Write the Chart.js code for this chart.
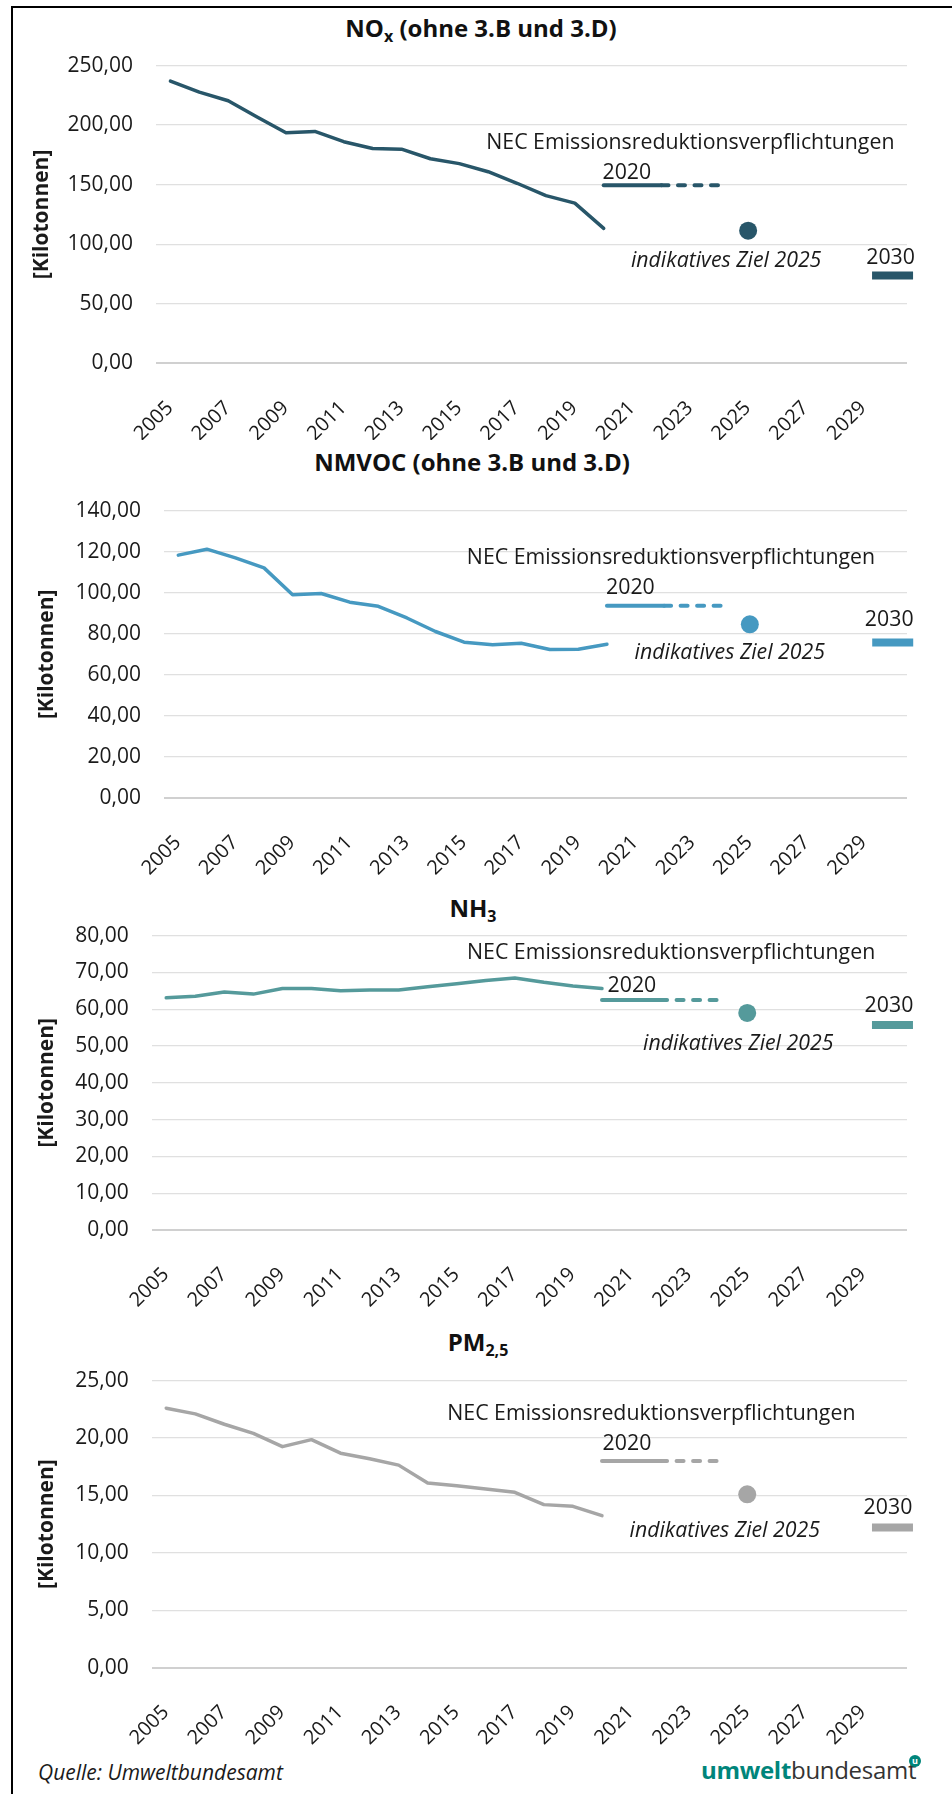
<!DOCTYPE html>
<html lang="de">
<head>
<meta charset="utf-8">
<script src="https://cdn.jsdelivr.net/npm/chart.js@4.4.1/dist/chart.umd.min.js"></script>
<style>
  body { margin: 0; width: 952px; height: 1794px; position: relative; background: #fff; overflow: hidden;
         font-family: "Open Sans", sans-serif; color: #1a1a1a; }
  #frame { position: absolute; left: 11px; top: 6px; width: 960px; height: 1800px;
           border-top: 2.5px solid #000; border-left: 2.5px solid #000; }
  .title { position: absolute; width: 600px; text-align: center; font-weight: 700; font-size: 24px;
           line-height: 30px; color: #111; white-space: nowrap; }
  .title sub { font-size: 16px; vertical-align: -5px; line-height: 0; }
  canvas { position: absolute; left: 0; }
  #source { position: absolute; left: 38px; top: 1759px; font-style: italic; font-size: 21px; line-height: 26px; }
  #logo { position: absolute; left: 701px; top: 1755px; font-size: 24px; line-height: 30px; letter-spacing: -0.3px; }
  #logo b { color: #00857b; font-weight: 700; }
  #logo span { color: #333; }
  #logo i { position: absolute; left: 208px; top: 0px; width: 12px; height: 12px; border-radius: 50%;
            background: #00857b; color: #fff; font-style: normal; font-weight: 700; font-size: 9px;
            line-height: 11px; text-align: center; letter-spacing: 0; }
</style>
</head>
<body>
<div id="frame"></div>

<div class="title" style="left:181px; top:13px;">NO<sub>x</sub> (ohne 3.B und 3.D)</div>
<div class="title" style="left:172px; top:447px;">NMVOC (ohne 3.B und 3.D)</div>
<div class="title" style="left:173px; top:893px;">NH<sub>3</sub></div>
<div class="title" style="left:178px; top:1327px;">PM<sub>2,5</sub></div>

<canvas id="c1" width="952" height="410" style="top:30px"></canvas>
<canvas id="c2" width="952" height="405" style="top:475px"></canvas>
<canvas id="c3" width="952" height="420" style="top:900px"></canvas>
<canvas id="c4" width="952" height="400" style="top:1345px"></canvas>

<div id="source">Quelle: Umweltbundesamt</div>
<div id="logo"><b>umwelt</b><span>bundesamt</span><i>u</i></div>

<script>
// Jahre (Kategorien)
const years = ['2005','2006','2007','2008','2009','2010','2011','2012','2013',
  '2014','2015','2016','2017','2018','2019','2020','2021','2022','2023','2024',
  '2025','2026','2027','2028','2029','2030'];

// Emissionen 2005-2020 [Kilotonnen]
const noxValues   = [237.0, 227.7, 220.5, 206.8, 193.6, 194.7, 186.1, 180.4, 179.8, 171.8, 167.7, 160.9, 151.2, 140.8, 134.5, 113.3];
const nmvocValues = [118.3, 121.2, 117.0, 112.1, 99.0, 99.6, 95.4, 93.4, 87.7, 81.1, 75.9, 74.6, 75.4, 72.3, 72.5, 74.9];
const nh3Values   = [63.1, 63.5, 64.7, 64.1, 65.6, 65.6, 65.0, 65.2, 65.2, 66.1, 66.9, 67.8, 68.5, 67.3, 66.3, 65.6];
const pm25Values  = [22.6, 22.1, 21.2, 20.4, 19.25, 19.86, 18.68, 18.19, 17.64, 16.08, 15.85, 15.56, 15.27, 14.2, 14.05, 13.24];

// NEC Ziele: NOx, NMVOC, NH3, PM2.5
const nec2020  = [149.6, 93.6, 62.5, 18.0];
const ziel2025 = [111.4, 84.6, 59.0, 15.1];
const nec2030  = [73.7, 75.8, 55.7, 12.2];

// y-Achsen
const yMax  = [250, 140, 80, 25];
const yStep = [50, 20, 10, 5];

const colors = ['#285669', '#4699c1', '#559a9b', '#a6a6a6'];

// Layout je Diagramm (Plotfläche in Canvas-Pixeln)
const layouts = [
  { plotLeft: 156,   top: 30.3, xh: 76.7, titlePad: 15.4 },
  { plotLeft: 164,   top: 20.3, xh: 82,   titlePad: 20.4 },
  { plotLeft: 151.7, top: 35,   xh: 90,   titlePad: 20.4 },
  { plotLeft: 151.7, top: 34.3, xh: 77.3, titlePad: 20.4 }
];

// Beschriftungen: Position relativ zu den Zielwerten
const noteLayouts = [
  { nec: {i: 18.0,  dy: -42}, y2020: {i: 15.8,  dy: -12}, ziel: {dx: -22,   dy: 30}, z2030: {dx: -2,   dy: -18} },
  { nec: {i: 17.24, dy: -48}, y2020: {i: 15.82, dy: -18}, ziel: {dx: -20,   dy: 29}, z2030: {dx: -3.5, dy: -22} },
  { nec: {i: 17.38, dy: -47}, y2020: {i: 16.03, dy: -14}, ziel: {dx: -9,    dy: 31}, z2030: {dx: -3.5, dy: -19.5} },
  { nec: {i: 16.7,  dy: -47}, y2020: {i: 15.86, dy: -17}, ziel: {dx: -22.5, dy: 37}, z2030: {dx: -4.5, dy: -20} }
];

Chart.defaults.font.family = '"Open Sans", sans-serif';
Chart.defaults.color = '#1a1a1a';

const notesPlugin = {
  id: 'notes',
  afterDraw(chart, args, opts) {
    const ctx = chart.ctx;
    const x = chart.scales.x, y = chart.scales.y;
    const n = opts.layout;
    const yNec = y.getPixelForValue(opts.nec);
    const x25 = x.getPixelForValue(years.indexOf('2025'));
    const y25 = y.getPixelForValue(opts.ziel);
    const x30 = x.getPixelForValue(years.indexOf('2030'));
    const y30 = y.getPixelForValue(opts.z2030);
    ctx.save();
    ctx.fillStyle = '#1a1a1a';
    ctx.textAlign = 'center';
    ctx.textBaseline = 'middle';
    ctx.font = '21.3px "Open Sans"';
    ctx.fillText('NEC Emissionsreduktionsverpflichtungen', x.getPixelForValue(n.nec.i), yNec + n.nec.dy);
    ctx.fillText('2020', x.getPixelForValue(n.y2020.i), yNec + n.y2020.dy);
    ctx.fillText('2030', x30 + n.z2030.dx, y30 + n.z2030.dy);
    ctx.font = 'italic 21.3px "Open Sans"';
    ctx.fillText('indikatives Ziel 2025', x25 + n.ziel.dx, y25 + n.ziel.dy);
    ctx.restore();
  }
};

function onlyAt(list, value) {
  return years.map(yr => list.includes(yr) ? value : null);
}

function makeChart(id, k, values) {
  const color = colors[k];
  const lay = layouts[k];
  const history = years.map((yr, i) => i < values.length ? values[i] : null);
  new Chart(document.querySelector(id), {
    type: 'line',
    data: {
      labels: years,
      datasets: [
        { data: history, borderColor: color, borderWidth: 3.5, pointRadius: 0,
          borderCapStyle: 'round', borderJoinStyle: 'round', tension: 0 },
        { data: onlyAt(['2020','2021','2022'], nec2020[k]), borderColor: color, borderWidth: 4,
          pointRadius: 0, borderCapStyle: 'round' },
        { data: onlyAt(['2022','2023','2024'], nec2020[k]), borderColor: color, borderWidth: 4,
          pointRadius: 0, borderCapStyle: 'round', borderDash: [7, 9.5] },
        { data: onlyAt(['2025'], ziel2025[k]), showLine: false, pointRadius: 9,
          pointBackgroundColor: color, pointBorderWidth: 0 },
        { data: onlyAt(['2030'], nec2030[k]), showLine: false, pointStyle: 'line', pointRadius: 20.5,
          pointBorderWidth: 8, pointBorderColor: color, borderColor: color, clip: false }
      ]
    },
    options: {
      responsive: false,
      animation: false,
      events: [],
      layout: { padding: { left: 14, right: 45, top: lay.top, bottom: 0 } },
      plugins: {
        legend: { display: false },
        tooltip: { enabled: false },
        notes: { layout: noteLayouts[k], nec: nec2020[k], ziel: ziel2025[k], z2030: nec2030[k] }
      },
      scales: {
        x: {
          offset: true,
          grid: { display: false },
          border: { display: false },
          ticks: {
            autoSkip: false, maxRotation: 45, minRotation: 45,
            padding: 25, labelOffset: -0.5,
            font: { size: 20 }, color: '#1a1a1a',
            callback: (v, i) => i % 2 === 0 ? years[i] : ''
          },
          afterFit: s => { s.height = lay.xh; }
        },
        y: {
          min: 0, max: yMax[k],
          grid: {
            drawTicks: false,
            color: c => c.tick.value === 0 ? '#d0d0d0' : '#e0e0e0',
            lineWidth: c => c.tick.value === 0 ? 2 : 1.3
          },
          border: { display: false },
          ticks: {
            stepSize: yStep[k], padding: 23, font: { size: 21 }, color: '#1a1a1a',
            callback: v => v.toFixed(2).replace('.', ',')
          },
          title: {
            display: true, text: '[Kilotonnen]', color: '#1a1a1a',
            font: { size: 21, weight: 'bold' }, padding: { top: lay.titlePad, bottom: 0 }
          },
          afterFit: s => { s.width = lay.plotLeft - 14; }
        }
      }
    },
    plugins: [notesPlugin]
  });
}

makeChart('#c1', 0, noxValues);
makeChart('#c2', 1, nmvocValues);
makeChart('#c3', 2, nh3Values);
makeChart('#c4', 3, pm25Values);
</script>
</body>
</html>
